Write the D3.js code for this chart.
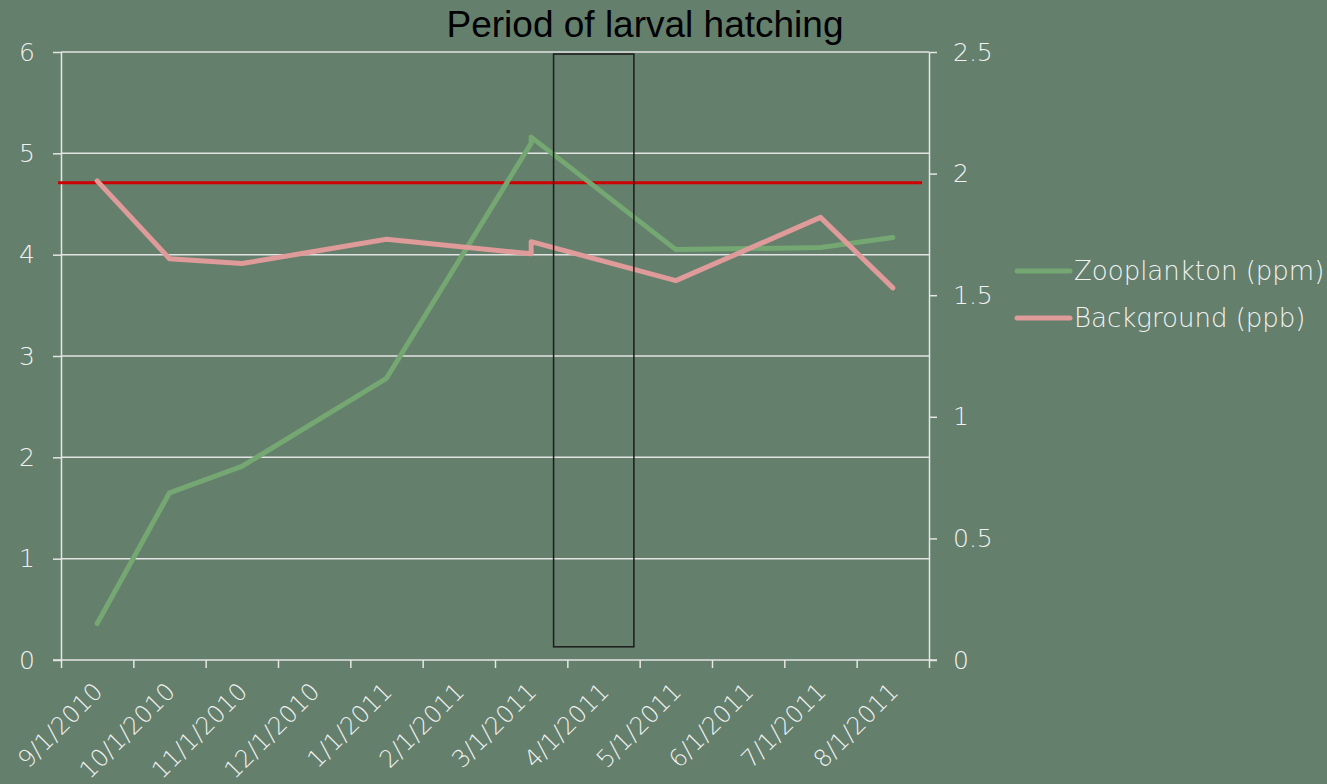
<!DOCTYPE html>
<html>
<head>
<meta charset="UTF-8">
<title>Period of larval hatching</title>
<script src="https://cdn.jsdelivr.net/npm/d3@7"></script>
<style>
  body { margin: 0; background: #647f6c; }
  svg { display: block; }
  .lbl { font-family: "DejaVu Sans", sans-serif; font-weight: 200; fill: #f2f2f2; }
</style>
</head>
<body>
<svg id="chart" width="1327" height="784"></svg>
<script>
// month categories on the date axis
const months = ["9/1/2010", "10/1/2010", "11/1/2010", "12/1/2010", "1/1/2011", "2/1/2011",
                "3/1/2011", "4/1/2011", "5/1/2011", "6/1/2011", "7/1/2011", "8/1/2011"];

// observations: which month band each sample falls into
const sampleMonths = ["9/1/2010", "10/1/2010", "11/1/2010", "1/1/2011", "3/1/2011", "3/1/2011",
                      "5/1/2011", "7/1/2011", "8/1/2011"];
const zooplankton = [0.36, 1.65, 1.91, 2.78, 5.10, 5.16, 4.05, 4.07, 4.17];   // left axis
const background  = [1.97, 1.65, 1.63, 1.73, 1.67, 1.72, 1.56, 1.82, 1.53];   // right axis

const leftTicks = [0, 1, 2, 3, 4, 5, 6];
const rightTicks = [0, 0.5, 1, 1.5, 2, 2.5];
const thresholdLeft = 4.71;            // red reference line
// hatching period box (month index, left-axis values)
const hatchBox = { x0: 6.81, x1: 7.92, y0: 0.13, y1: 5.98 };

const seriesNames = ["Zooplankton (ppm)", "Background (ppb)"];
const seriesColors = ["#74a772", "#df9a9a"];

const plot = { left: 61, right: 929, top: 52, bottom: 660 };

const svg = d3.select("#chart");

const xBand = d3.scaleBand().domain(months).range([plot.left, plot.right]);
const xEdge = d3.scaleLinear().domain([0, months.length]).range([plot.left, plot.right]);
const yLeft = d3.scaleLinear().domain([0, 6]).range([plot.bottom, plot.top]);
const yRight = d3.scaleLinear().domain([0, 2.5]).range([plot.bottom, plot.top]);

// gridlines
svg.append("g")
  .selectAll("line")
  .data(leftTicks.filter(d => d > 0))
  .join("line")
  .attr("x1", plot.left).attr("x2", plot.right)
  .attr("y1", d => yLeft(d)).attr("y2", d => yLeft(d))
  .attr("stroke", "#e4e4e4").attr("stroke-width", 1.5);

function styleAxis(g, size = 25) {
  g.attr("font-family", null);
  g.selectAll(".domain").attr("stroke", "#e6e6e6").attr("stroke-width", 1.5);
  g.selectAll(".tick line").attr("stroke", "#e6e6e6").attr("stroke-width", 1.5);
  g.selectAll(".tick text").attr("class", "lbl").style("font-size", size + "px");
}

// left axis
svg.append("g")
  .attr("transform", `translate(${plot.left},0)`)
  .call(d3.axisLeft(yLeft).tickValues(leftTicks).tickFormat(d3.format("d")).tickSize(8).tickSizeOuter(0).tickPadding(18))
  .call(styleAxis);

// right axis
svg.append("g")
  .attr("transform", `translate(${plot.right},0)`)
  .call(d3.axisRight(yRight).tickValues(rightTicks).tickFormat(d3.format("~g")).tickSize(8).tickSizeOuter(0).tickPadding(16))
  .call(styleAxis);

// bottom axis: tick marks at month edges
svg.append("g")
  .attr("transform", `translate(0,${plot.bottom})`)
  .call(d3.axisBottom(xEdge).tickValues(d3.range(months.length + 1)).tickFormat("").tickSize(8).tickSizeOuter(0))
  .call(styleAxis)
  .select(".domain").attr("d", `M${plot.left - 8},0H${plot.right + 8}`);

// month labels centred on bands, rotated
svg.append("g")
  .attr("transform", `translate(0,${plot.bottom})`)
  .call(d3.axisBottom(xBand).tickSize(0).tickPadding(0))
  .call(g => g.select(".domain").remove())
  .call(g => styleAxis(g, 24))
  .selectAll(".tick text")
  .attr("text-anchor", "end")
  .attr("y", 0).attr("dy", null)
  .attr("transform", "translate(7,33) rotate(-45)");

// red threshold line
svg.append("line")
  .attr("x1", plot.left - 3).attr("x2", plot.right - 7)
  .attr("y1", yLeft(thresholdLeft)).attr("y2", yLeft(thresholdLeft))
  .attr("stroke", "#cc0000").attr("stroke-width", 3);

// lines
const xOf = (d, i) => xBand(sampleMonths[i]) + xBand.bandwidth() / 2;
const lineL = d3.line().x(xOf).y(d => yLeft(d));
const lineR = d3.line().x(xOf).y(d => yRight(d));

svg.append("path")
  .attr("d", lineL(zooplankton))
  .attr("fill", "none").attr("stroke", seriesColors[0])
  .attr("stroke-width", 5).attr("stroke-linejoin", "round").attr("stroke-linecap", "round");

svg.append("path")
  .attr("d", lineR(background))
  .attr("fill", "none").attr("stroke", seriesColors[1])
  .attr("stroke-width", 5).attr("stroke-linejoin", "round").attr("stroke-linecap", "round");

// hatching box
svg.append("rect")
  .attr("x", xEdge(hatchBox.x0))
  .attr("y", yLeft(hatchBox.y1))
  .attr("width", xEdge(hatchBox.x1) - xEdge(hatchBox.x0))
  .attr("height", yLeft(hatchBox.y0) - yLeft(hatchBox.y1))
  .attr("fill", "none").attr("stroke", "#1c1c1c").attr("stroke-width", 1.5);

// title
svg.append("text")
  .attr("x", 645).attr("y", 37)
  .attr("text-anchor", "middle")
  .style("font-family", "'Liberation Sans', Arial, sans-serif")
  .style("font-size", "37px")
  .attr("fill", "#000")
  .text("Period of larval hatching");

// legend
const legend = svg.append("g").attr("transform", "translate(1015,271)");
const items = legend.selectAll("g")
  .data(seriesNames)
  .join("g")
  .attr("transform", (d, i) => `translate(0,${i * 47})`);
items.append("line")
  .attr("x1", 2).attr("x2", 55)
  .attr("stroke", (d, i) => seriesColors[i])
  .attr("stroke-width", 5).attr("stroke-linecap", "round");
items.append("text")
  .attr("class", "lbl")
  .attr("x", 59).attr("y", 9)
  .style("font-size", "26px")
  .text(d => d);
</script>
</body>
</html>
